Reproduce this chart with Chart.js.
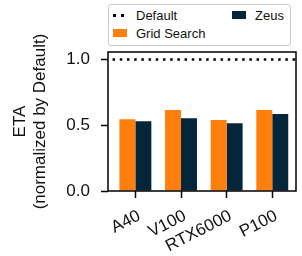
<!DOCTYPE html>
<html>
<head>
<meta charset="utf-8">
<script src="https://cdn.jsdelivr.net/npm/chart.js@4/dist/chart.umd.min.js"></script>
<style>
  body { margin: 0; background: #fff; }
  #wrap { position: relative; width: 302px; height: 256px; }
  #grafica { position: absolute; left: 0; top: 0; }
  #leyenda {
    position: absolute; left: 108px; top: 4px; width: 177px; height: 39px;
    padding: 1px 0 0 4px; border: 1px solid #ccc; border-radius: 3px; background: #fff;
    display: grid; grid-template-columns: 119px auto; grid-template-rows: 18px 18px;
    grid-auto-flow: column; font-family: "Liberation Sans", Arial, sans-serif; font-size: 13px; color: #111;
  }
  .item { display: flex; align-items: center; }
  .marca { width: 14px; height: 8px; margin-right: 9px; }
  .puntos { width: 14px; height: 3px; margin-right: 9px;
    background: repeating-linear-gradient(90deg, #000 0 3px, transparent 3px 8px); }
</style>
</head>
<body>
<div id="wrap">
  <canvas id="grafica" width="302" height="256"></canvas>
  <div id="leyenda"></div>
</div>
<script>
var categorias = ['A40', 'V100', 'RTX6000', 'P100'];
var gridSearch = [0.546, 0.615, 0.539, 0.615];
var zeus = [0.531, 0.553, 0.516, 0.585];
var defaultEta = 1.0;
var yTicks = [0, 0.5, 1.0];

var naranja = '#ff7f0e';
var azul = '#05263a';
var fuente = '"Liberation Sans", Arial, sans-serif';

/* marco negro alrededor del area */
var marco = {
    id: 'marco',
    afterDatasetsDraw: function(chart) {
        var a = chart.chartArea;
        var ctx = chart.ctx;
        ctx.save();
        ctx.strokeStyle = '#000';
        ctx.lineWidth = 1.5;
        ctx.strokeRect(a.left, a.top, a.right - a.left, a.bottom - a.top);
        ctx.restore();
    }
};

var datos = {
    datasets: [
        {
            type: 'line',
            label: 'Default',
            data: [{x: -0.5, y: defaultEta}, {x: categorias.length - 0.5, y: defaultEta}],
            borderColor: '#000',
            borderWidth: 2.5,
            borderDash: [2.5, 4.7],
            borderCapStyle: 'butt',
            pointRadius: 0,
            fill: false
        },
        {
            label: 'Grid Search',
            data: categorias.map(function(c, i) { return {x: i, y: gridSearch[i]}; }),
            backgroundColor: naranja,
            borderWidth: 0,
            barPercentage: 1,
            categoryPercentage: 0.7
        },
        {
            label: 'Zeus',
            data: categorias.map(function(c, i) { return {x: i, y: zeus[i]}; }),
            backgroundColor: azul,
            borderWidth: 0,
            barPercentage: 1,
            categoryPercentage: 0.7
        }
    ]
};

var opciones = {
    responsive: false,
    devicePixelRatio: 1,
    animation: false,
    layout: { padding: { top: 52, right: 6, bottom: 0, left: 0 } },
    plugins: { legend: { display: false }, tooltip: { enabled: false } },
    scales: {
        x: {
            type: 'linear',
            offset: false,
            min: -0.6,
            max: 3.52,
            afterBuildTicks: function(scale) {
                scale.ticks = categorias.map(function(c, i) { return {value: i}; });
            },
            afterFit: function(scale) { scale.height = 65; },
            grid: { offset: false, drawOnChartArea: false, drawTicks: true, tickLength: 7, tickWidth: 1.5, color: '#000' },
            border: { display: false },
            ticks: {
                color: '#111',
                font: { family: fuente, size: 17 },
                padding: 8,
                labelOffset: 4,
                minRotation: 27,
                maxRotation: 27,
                autoSkip: false,
                callback: function(v) { return categorias[v]; }
            }
        },
        y: {
            min: 0,
            max: 1.057,
            afterBuildTicks: function(scale) {
                scale.ticks = yTicks.map(function(v) { return {value: v}; });
            },
            afterFit: function(scale) { scale.width = 108; },
            grid: { drawOnChartArea: false, drawTicks: true, tickLength: 7, tickWidth: 1.5, color: '#000' },
            border: { display: false },
            ticks: {
                color: '#111',
                font: { family: fuente, size: 17 },
                padding: 11,
                callback: function(v) { return v.toFixed(1); }
            },
            title: {
                display: true,
                text: ['ETA', '(normalized by Default)'],
                color: '#111',
                font: { family: fuente, size: 17, lineHeight: 1.2 },
                padding: { top: 10, bottom: 0 }
            }
        }
    }
};

var grafica = new Chart(document.getElementById('grafica'), {
    type: 'bar',
    data: datos,
    options: opciones,
    plugins: [marco]
});

/* leyenda en dos columnas (orden por columna) */
var leyenda = document.getElementById('leyenda');
datos.datasets.forEach(function(ds) {
    var item = document.createElement('div');
    item.className = 'item';
    var m = document.createElement('span');
    if (ds.type === 'line') {
        m.className = 'puntos';
    } else {
        m.className = 'marca';
        m.style.background = ds.backgroundColor;
    }
    var t = document.createElement('span');
    t.textContent = ds.label;
    item.appendChild(m);
    item.appendChild(t);
    leyenda.appendChild(item);
});
</script>
</body>
</html>
